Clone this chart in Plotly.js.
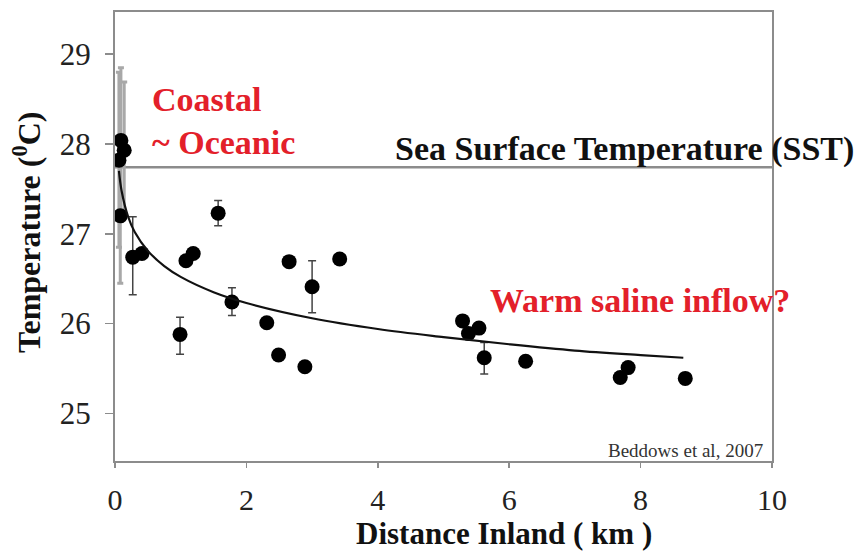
<!DOCTYPE html>
<html>
<head>
<meta charset="utf-8">
<script src="https://cdn.plot.ly/plotly-3.0.1.min.js"></script>
<style>html,body{margin:0;padding:0;background:#fff;}#chart{width:864px;height:552px;}</style>
</head>
<body>
<div id="chart"></div>
<script>
// Coastal sites (near x = 0) with wide error bars
const coastX = [0.09, 0.14, 0.06, 0.08];
const coastY = [28.04, 27.93, 27.82, 27.20];
const coastErrPlus = [0.81, 0.76, 0.98, 0.75];
const coastErrMinus = [0.80, 0.73, 0.97, 0.75];

// Inland sites
const inlandX = [0.27, 0.41, 0.99, 1.08, 1.19, 1.57, 1.78, 2.31, 2.49, 2.65, 2.89, 3.00, 3.42,
                 5.29, 5.38, 5.54, 5.62, 6.25, 7.69, 7.81, 8.68];
const inlandY = [26.74, 26.78, 25.88, 26.70, 26.78, 27.23, 26.24, 26.01, 25.65, 26.69, 25.52, 26.41, 26.72,
                 26.03, 25.89, 25.95, 25.62, 25.58, 25.40, 25.51, 25.39];
const inlandErrPlus = [0.45, 0, 0.19, 0, 0, 0.14, 0.16, 0, 0, 0, 0, 0.29, 0,
                       0, 0, 0, 0.17, 0, 0, 0, 0];
const inlandErrMinus = [0.42, 0, 0.22, 0, 0, 0.14, 0.15, 0, 0, 0, 0, 0.29, 0,
                        0, 0, 0, 0.18, 0, 0, 0, 0];

// Fitted curve
const fitX = [0.06, 0.1, 0.2, 0.3, 0.5, 0.75, 1.0, 1.5, 2.0, 3.0, 4.0, 5.0, 6.0, 7.0, 8.0, 8.65];
const fitY = [27.70, 27.48, 27.19, 27.02, 26.81, 26.64, 26.52, 26.35, 26.23, 26.06, 25.94, 25.85, 25.77, 25.70, 25.65, 25.62];

// Sea surface temperature reference
const sstX = [0, 10];
const sstY = [27.74, 27.74];

// Axis ticks
const xTicks = [0, 2, 4, 6, 8, 10];
const yTicks = [25, 26, 27, 28, 29];

const serif = "Liberation Serif";
const red = "#e3202a";

const traces = [
  {x: sstX, y: sstY, mode: 'lines', line: {color: '#8c8c8c', width: 2.5}, hoverinfo: 'skip', showlegend: false},
  {x: coastX, y: coastY, mode: 'markers', type: 'scatter',
   marker: {color: '#000', size: 15},
   error_y: {type: 'data', symmetric: false, array: coastErrPlus, arrayminus: coastErrMinus,
             color: '#a8a8a8', thickness: 3, width: 3},
   showlegend: false},
  {x: inlandX, y: inlandY, mode: 'markers', type: 'scatter',
   marker: {color: '#000', size: 15},
   error_y: {type: 'data', symmetric: false, array: inlandErrPlus, arrayminus: inlandErrMinus,
             color: '#444', thickness: 1.5, width: 4},
   showlegend: false},
  {x: fitX, y: fitY, mode: 'lines', line: {color: '#111', width: 2.2, shape: 'spline'}, showlegend: false}
];

const layout = {
  width: 864, height: 552,
  margin: {l: 115, r: 92, t: 12, b: 91},
  paper_bgcolor: '#fff', plot_bgcolor: '#fff',
  font: {family: serif, color: '#222'},
  showlegend: false,
  xaxis: {
    range: [0, 10], tickvals: xTicks, ticktext: xTicks.map(String),
    showgrid: false, zeroline: false,
    showline: true, linecolor: '#8c8c8c', linewidth: 2, mirror: true,
    ticks: 'outside', ticklen: 5, tickcolor: '#8c8c8c', tickwidth: 1.5,
    ticklabelstandoff: 6,
    tickfont: {family: serif, size: 30, color: '#222'}
  },
  yaxis: {
    range: [24.47, 29.47], tickvals: yTicks, ticktext: yTicks.map(String),
    showgrid: false, zeroline: false,
    showline: true, linecolor: '#8c8c8c', linewidth: 2, mirror: true,
    ticks: 'outside', ticklen: 8, tickcolor: '#8c8c8c', tickwidth: 1.5,
    ticklabelstandoff: 8,
    tickfont: {family: serif, size: 31, color: '#222'}
  },
  annotations: [
    {text: 'Coastal', x: 0.53, y: 28.50, xref: 'x', yref: 'y', xanchor: 'left', yanchor: 'middle', showarrow: false,
     font: {family: serif, size: 34, color: red, weight: 'bold'}},
    {text: '~ Oceanic', x: 0.53, y: 28.02, xref: 'x', yref: 'y', xanchor: 'left', yanchor: 'middle', showarrow: false,
     font: {family: serif, size: 34, color: red, weight: 'bold'}},
    {text: 'Sea Surface Temperature (SST)', x: 4.23, y: 27.95, xref: 'x', yref: 'y', xanchor: 'left', yanchor: 'middle', showarrow: false,
     font: {family: serif, size: 34, color: '#111', weight: 'bold'}},
    {text: 'Warm saline inflow?', x: 5.68, y: 26.26, xref: 'x', yref: 'y', xanchor: 'left', yanchor: 'middle', showarrow: false,
     font: {family: serif, size: 34, color: red, weight: 'bold'}},
    {text: 'Beddows et al, 2007', x: 9.89, y: 24.59, xref: 'x', yref: 'y', xanchor: 'right', yanchor: 'middle', showarrow: false,
     font: {family: serif, size: 19, color: '#333'}},
    {text: 'Distance Inland ( km )', x: 0.592, y: -0.161, xref: 'paper', yref: 'paper', xanchor: 'center', yanchor: 'middle', showarrow: false,
     font: {family: serif, size: 31, color: '#111', weight: 'bold'}},
    {text: 'Temperature (<sup>0</sup>C)', x: -0.134, y: 0.51, xref: 'paper', yref: 'paper', xanchor: 'center', yanchor: 'middle', showarrow: false,
     textangle: -90, font: {family: serif, size: 32, color: '#111', weight: 'bold'}}
  ]
};

Plotly.newPlot('chart', traces, layout, {displayModeBar: false, staticPlot: true});
</script>
</body>
</html>
